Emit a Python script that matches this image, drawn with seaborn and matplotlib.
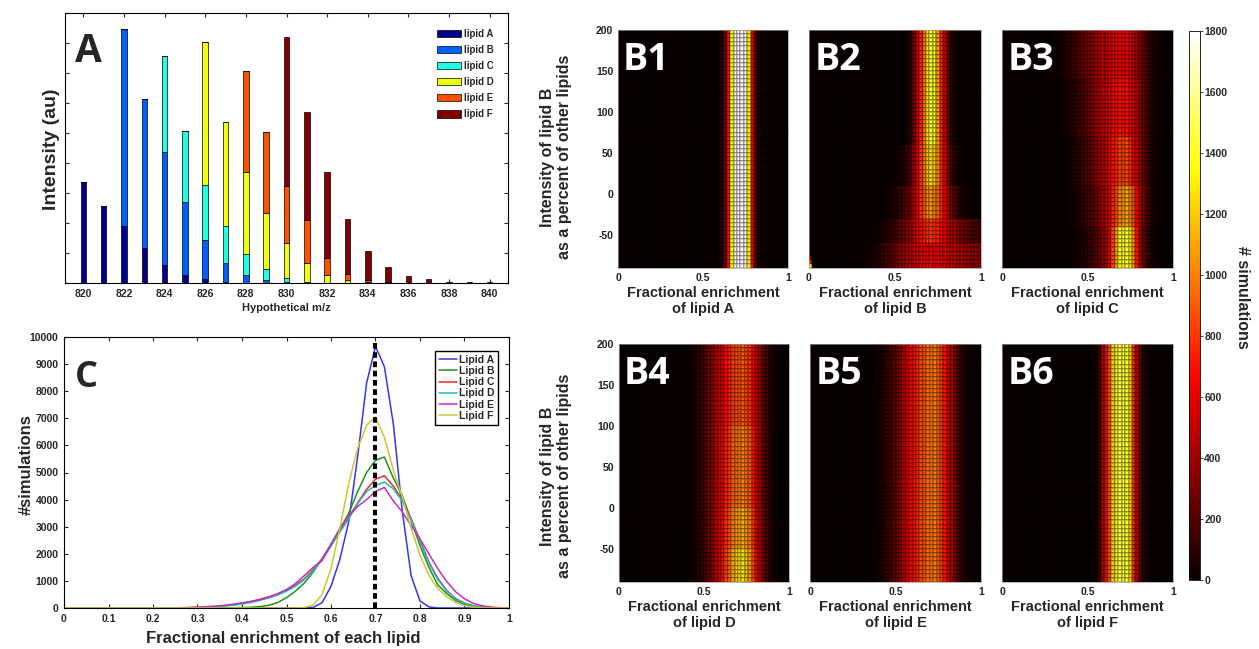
import numpy as np
import pandas as pd
import matplotlib
matplotlib.use('Agg')
import matplotlib.pyplot as plt
import seaborn as sns

# ---------------- panel A: isotope envelope, stacked by lipid ----------------
mz = list(range(820, 841))
lipid_names = ['lipid A', 'lipid B', 'lipid C', 'lipid D', 'lipid E', 'lipid F']
int_a = [3.36, 2.56, 1.89, 1.17, 0.61, 0.28, 0.13, 0.04, 0.01, 0, 0, 0, 0, 0, 0, 0, 0, 0, 0, 0, 0]
int_b = [0, 0, 6.58, 4.96, 3.75, 2.41, 1.31, 0.63, 0.27, 0.11, 0.04, 0, 0, 0, 0, 0, 0, 0, 0, 0, 0]
int_c = [0, 0, 0, 0, 3.22, 2.39, 1.84, 1.24, 0.70, 0.36, 0.13, 0.03, 0, 0, 0, 0, 0, 0, 0, 0, 0]
int_d = [0, 0, 0, 0, 0, 0, 4.75, 3.47, 2.71, 1.86, 1.16, 0.64, 0.28, 0.11, 0.02, 0, 0, 0, 0, 0, 0]
int_e = [0, 0, 0, 0, 0, 0, 0, 0, 3.39, 2.69, 1.91, 1.42, 0.55, 0.20, 0.08, 0.02, 0, 0, 0, 0, 0]
int_f = [0, 0, 0, 0, 0, 0, 0, 0, 0, 0, 4.96, 3.60, 2.88, 1.82, 0.96, 0.50, 0.23, 0.12, 0.05, 0.03, 0.02]
bar_colors = ['#00008f', '#0060ff', '#20ffdf', '#efff10', '#ff5000', '#800000']

# ---------------- panel C: enrichment histograms ----------------
enrich_x = np.round(np.arange(51) * 0.02, 2)
sim_a = [0] * 28 + [20, 200, 800, 1800, 3200, 5600, 8300, 9650, 8900, 6800, 3600, 1200, 260, 40] + [0] * 9
sim_b = [0] * 18 + [5, 10, 15, 25, 50, 100, 200, 380, 620, 920, 1330, 1820, 2350, 2900, 3500, 4300,
                    5000, 5450, 5570, 4800, 4150, 3250, 2300, 1500, 850, 530, 280, 130, 50, 15, 0, 0, 0]
sim_c = [0] * 14 + [10, 20, 30, 50, 80, 120, 170, 240, 320, 410, 520, 660, 840, 1080, 1420, 1820, 2330,
                    2850, 3350, 3880, 4380, 4750, 4880, 4500, 4000, 3300, 2500, 1700, 1100, 650, 350, 180,
                    80, 30, 10, 0, 0]
sim_d = [0] * 14 + [5, 15, 25, 45, 70, 100, 145, 205, 280, 370, 480, 620, 800, 1050, 1380, 1780, 2280,
                    2800, 3300, 3850, 4300, 4520, 4650, 4400, 3950, 3250, 2450, 1650, 1050, 620, 330, 170,
                    80, 30, 10, 0, 0]
sim_e = [0] * 13 + [10, 20, 30, 50, 70, 100, 140, 190, 240, 300, 400, 520, 680, 900, 1200, 1500, 1750,
                    2350, 2950, 3400, 3750, 4000, 4300, 4450, 3950, 3550, 3050, 2550, 2000, 1450, 980,
                    600, 340, 170, 80, 35, 10, 0]
sim_f = [0] * 27 + [20, 100, 500, 1450, 2950, 4600, 5900, 6750, 7050, 6300, 5100, 4100, 2950, 1950, 1200,
                    720, 420, 200, 90, 30, 0, 0, 0, 0]
line_names = ['Lipid A', 'Lipid B', 'Lipid C', 'Lipid D', 'Lipid E', 'Lipid F']
line_colors = ['#3535ee', '#1f8f1f', '#ee2a2a', '#22bbbb', '#c030c0', '#c8c830']
true_enrichment = 0.7
true_line_top = 9800

# ---------------- panels B1-B6: counts per cell ----------------
# 50 columns of width 0.02 in x; profiles list the columns from x = 0.30 up
# rows are 5 units of lipid B intensity, from 200 down to -90 (58 rows)
hm_pad = 15
b1 = [0] * 14 + [20, 60, 250, 700, 1350, 1800, 1850, 1850, 1750, 1300, 650, 200, 50, 10] + [0] * 7

b2_1 = [0] * 12 + [10, 30, 100, 280, 550, 750, 1000, 1300, 1420, 1350, 1050, 760, 520, 260, 90, 30, 10] + [0] * 6
b2_2 = [0] * 9 + [10, 20, 40, 70, 120, 220, 400, 620, 800, 1000, 1200, 1260, 1200, 1000, 780, 560, 340,
                  170, 80, 35, 15] + [0] * 5
b2_3 = [0] * 6 + [10, 20, 35, 55, 80, 120, 170, 240, 330, 460, 620, 780, 920, 1030, 1060, 1020, 900, 760,
                  600, 440, 300, 190, 110, 60, 30, 15] + [0] * 3
b2_4 = [0] * 3 + [10, 20, 35, 55, 80, 110, 145, 185, 230, 280, 340, 410, 490, 580, 670, 740, 790, 810, 790,
                  740, 670, 600, 530, 470, 410, 360, 310, 270, 230, 200, 170, 150]
b2_5 = [10, 20, 30, 45, 65, 90, 125, 165, 210, 255, 300, 345, 390, 435, 480, 520, 555, 585, 605, 615,
        620, 620, 610, 590, 570, 545, 520, 495, 470, 445, 420, 400, 380, 360, 340]
b2_corner = [300, 700, 1400]

b3_1 = [15, 30, 50, 75, 100, 130, 165, 200, 240, 285, 330, 375, 420, 460, 500, 530, 560, 590, 610, 620,
        620, 600, 560, 500, 420, 330, 240, 160, 100, 55, 30, 15, 5, 0, 0]
b3_2 = [5, 10, 20, 35, 55, 80, 110, 145, 185, 230, 280, 330, 385, 440, 495, 545, 595, 640, 680, 700,
        710, 690, 640, 560, 460, 350, 245, 160, 95, 50, 25, 10, 5, 0, 0]
b3_3 = [0, 5, 10, 20, 35, 55, 80, 110, 145, 185, 230, 280, 335, 395, 460, 530, 610, 690, 770, 830,
        855, 840, 770, 660, 520, 380, 260, 160, 90, 45, 20, 10, 0, 0, 0]
b3_4 = [0, 0, 5, 10, 20, 35, 55, 80, 110, 145, 185, 230, 280, 340, 410, 500, 610, 740, 880, 1010,
        1090, 1100, 1020, 860, 650, 450, 290, 170, 90, 45, 20, 10, 0, 0, 0]
b3_5 = [0, 0, 0, 5, 10, 20, 30, 45, 65, 90, 120, 160, 210, 270, 350, 460, 620, 850, 1120, 1340,
        1430, 1420, 1300, 1050, 720, 440, 250, 130, 65, 30, 15, 5, 0, 0, 0]

b4_1 = [0] * 5 + [15, 30, 60, 100, 150, 210, 280, 360, 440, 520, 600, 680, 750, 810, 860, 880, 880, 850,
                  780, 660, 520, 380, 250, 150, 80, 40, 15] + [0] * 3
b4_2 = [0] * 5 + [15, 30, 55, 95, 145, 205, 280, 370, 460, 550, 640, 730, 820, 900, 960, 1000, 1000, 960,
                  870, 730, 570, 410, 270, 160, 85, 40, 15] + [0] * 3
b4_3 = [0] * 5 + [10, 25, 50, 85, 135, 195, 270, 360, 460, 560, 670, 780, 890, 990, 1070, 1120, 1120, 1070,
                  960, 800, 610, 430, 280, 160, 85, 40, 15] + [0] * 3
b4_4 = [0] * 5 + [10, 20, 40, 75, 120, 180, 255, 345, 450, 560, 690, 820, 960, 1100, 1210, 1280, 1270, 1190,
                  1050, 860, 650, 450, 290, 165, 85, 40, 15] + [0] * 3

b5 = [0] * 4 + [20, 40, 70, 110, 160, 220, 290, 370, 460, 560, 640, 720, 780, 840, 900, 950, 980, 970,
                920, 820, 700, 560, 420, 290, 180, 100, 50, 20, 10] + [0] * 2
b6 = [0] * 11 + [10, 40, 150, 400, 700, 900, 1200, 1400, 1450, 1450, 1400, 1250, 800, 450, 200, 70, 20] + [0] * 7

heat_titles = ['B1', 'B2', 'B3', 'B4', 'B5', 'B6']
heat_lipids = ['A', 'B', 'C', 'D', 'E', 'F']


def heat_grid(blocks):
    rows = []
    for profile, n in blocks:
        rows += [[0] * hm_pad + profile] * n
    return np.array(rows, dtype=float)


grids = [
    heat_grid([(b1, 58)]),
    heat_grid([(b2_1, 28), (b2_2, 10), (b2_3, 8), (b2_4, 6), (b2_5, 6)]),
    heat_grid([(b3_1, 12), (b3_2, 14), (b3_3, 12), (b3_4, 10), (b3_5, 10)]),
    heat_grid([(b4_1, 20), (b4_2, 20), (b4_3, 10), (b4_4, 8)]),
    heat_grid([(b5, 58)]),
    heat_grid([(b6, 58)]),
]
grids[1][-3:, 0] = b2_corner

# ---------------- figure ----------------
sns.set_theme(style='ticks')
plt.rcParams['font.family'] = ['Liberation Sans', 'DejaVu Sans']

W, H = 1259, 649
fig = plt.figure(figsize=(W / 100, H / 100), dpi=100)


def box(left, top, right, bottom):
    return [left / W, 1 - bottom / H, (right - left) / W, (bottom - top) / H]


def ftext(x, y, s, **kw):
    fig.text(x / W, 1 - y / H, s, ha='center', va='center', fontweight='bold', **kw)


def frame(ax, color='black', lw=0.8):
    for sp in ax.spines.values():
        sp.set_visible(True)
        sp.set_color(color)
        sp.set_linewidth(lw)


# --- A ---
ax_a = fig.add_axes(box(65, 13, 508, 283))
base = np.zeros(len(mz))
for name, vals, col in zip(lipid_names, [int_a, int_b, int_c, int_d, int_e, int_f], bar_colors):
    ax_a.bar(mz, vals, bottom=base, width=0.27, color=col, edgecolor='black', linewidth=0.5, label=name)
    base += np.array(vals)
ax_a.set_xlim(819.1, 840.9)
ax_a.set_ylim(0, 9)
ax_a.set_xticks(range(820, 841, 2))
ax_a.set_yticks(range(0, 10))
ax_a.set_yticklabels([])
ax_a.tick_params(direction='in', top=True, right=True, length=3, width=0.8, labelsize=7.5, pad=4)
for t in ax_a.get_xticklabels():
    t.set_fontweight('bold')
frame(ax_a)
ax_a.legend(loc='upper left', bbox_to_anchor=(0.83, 0.955), frameon=False,
            prop={'size': 7, 'weight': 'bold'}, handlelength=2.5, handleheight=0.8,
            labelspacing=0.62, handletextpad=0.3, borderaxespad=0)
ax_a.text(0.023, 0.93, 'A', transform=ax_a.transAxes, fontsize=28, fontweight='bold',
          family='Open Sans', ha='left', va='top')
ftext(51, 149, 'Intensity (au)', fontsize=14, rotation=90)
ftext(286, 308, 'Hypothetical m/z', fontsize=8)

# --- C ---
ax_c = fig.add_axes(box(64, 337, 509, 608))
df_c = pd.DataFrame({
    'enrichment': np.tile(enrich_x, len(line_names)),
    'count': np.concatenate([sim_a, sim_b, sim_c, sim_d, sim_e, sim_f]),
    'lipid': np.repeat(line_names, len(enrich_x)),
})
sns.lineplot(data=df_c, x='enrichment', y='count', hue='lipid', hue_order=line_names,
             palette=line_colors, linewidth=1.1, estimator=None, ax=ax_c)
ax_c.vlines(true_enrichment, 0, true_line_top, colors='black', linestyles=(0, (1.4, 0.9)),
            linewidth=2.9, zorder=5)
ax_c.set_xlim(0, 1)
ax_c.set_ylim(0, 10000)
ax_c.set_xticks(np.round(np.arange(11) * 0.1, 1))
ax_c.set_xticklabels(['0', '0.1', '0.2', '0.3', '0.4', '0.5', '0.6', '0.7', '0.8', '0.9', '1'])
ax_c.set_yticks(range(0, 10001, 1000))
ax_c.set_xlabel('')
ax_c.set_ylabel('')
ax_c.tick_params(direction='in', top=True, right=True, length=3, width=0.8, labelsize=7.5, pad=4)
for t in ax_c.get_xticklabels() + ax_c.get_yticklabels():
    t.set_fontweight('bold')
frame(ax_c)
handles, labels = ax_c.get_legend_handles_labels()
leg = ax_c.legend(handles, labels, loc='upper right', bbox_to_anchor=(0.975, 0.948),
                  prop={'size': 7.5, 'weight': 'bold'}, handlelength=1.7, handletextpad=0.2,
                  labelspacing=0.12, borderpad=0.35, fancybox=False, framealpha=1, borderaxespad=0)
leg.get_frame().set_edgecolor('black')
leg.get_frame().set_linewidth(1.0)
ax_c.text(0.025, 0.915, 'C', transform=ax_c.transAxes, fontsize=26, fontweight='bold',
          family='Open Sans', ha='left', va='top')
ftext(26, 465, '#simulations', fontsize=12, rotation=90)
ftext(283, 638, 'Fractional enrichment of each lipid', fontsize=12)

# --- B1..B6 ---
heat_boxes = [(618, 30, 788, 268), (809, 30, 981, 268), (1002, 30, 1173, 268),
              (619, 344, 789, 582), (810, 344, 981, 582), (1002, 344, 1173, 582)]
cax = fig.add_axes(box(1189, 31, 1200, 580))
heat_axes = []
for i, (grid, title, lip, bx) in enumerate(zip(grids, heat_titles, heat_lipids, heat_boxes)):
    ax = fig.add_axes(box(*bx))
    heat_axes.append(ax)
    sns.heatmap(grid, ax=ax, cmap='hot', vmin=0, vmax=1800, cbar=(i == 0),
                cbar_ax=cax if i == 0 else None,
                cbar_kws={'ticks': list(range(0, 1801, 200))},
                linewidths=0.2, linecolor=(0, 0, 0, 0.22), xticklabels=False, yticklabels=False)
    ax.set_xticks([0, 25, 50])
    ax.set_xticklabels(['0', '0.5', '1'], rotation=0)
    if i % 3 == 0:
        ax.set_yticks([0, 10, 20, 30, 40, 50])
        ax.set_yticklabels(['200', '150', '100', '50', '0', '-50'], rotation=0)
    else:
        ax.set_yticks([])
    ax.tick_params(length=0, labelsize=7.5, pad=3.5, colors='#222222')
    for t in ax.get_xticklabels() + ax.get_yticklabels():
        t.set_fontweight('bold')
    frame(ax, color='#999999', lw=0.5)
    ax.text(0.03, 0.955, title, transform=ax.transAxes, color='white', fontsize=27,
            fontweight='bold', family='Open Sans', ha='left', va='top')
    cx = (bx[0] + bx[2]) / 2
    ftext(cx, bx[3] + 33, 'Fractional enrichment\nof lipid ' + lip, fontsize=10.5, linespacing=1.15)

ftext(556, 157, 'Intensity of lipid B\nas a percent of other lipids', fontsize=11.5, rotation=90,
      linespacing=1.15)
ftext(556, 476, 'Intensity of lipid B\nas a percent of other lipids', fontsize=11.5, rotation=90,
      linespacing=1.15)

cax.tick_params(labelsize=7.5, length=2, width=0.6, pad=1)
for t in cax.get_yticklabels():
    t.set_fontweight('bold')
cbar = heat_axes[0].collections[0].colorbar
if cbar is not None:
    cbar.outline.set_visible(True)
    cbar.outline.set_edgecolor('black')
    cbar.outline.set_linewidth(0.6)
ftext(1243, 297, '# simulations', fontsize=11.5, rotation=270)

fig.savefig('out.png', dpi=100)
